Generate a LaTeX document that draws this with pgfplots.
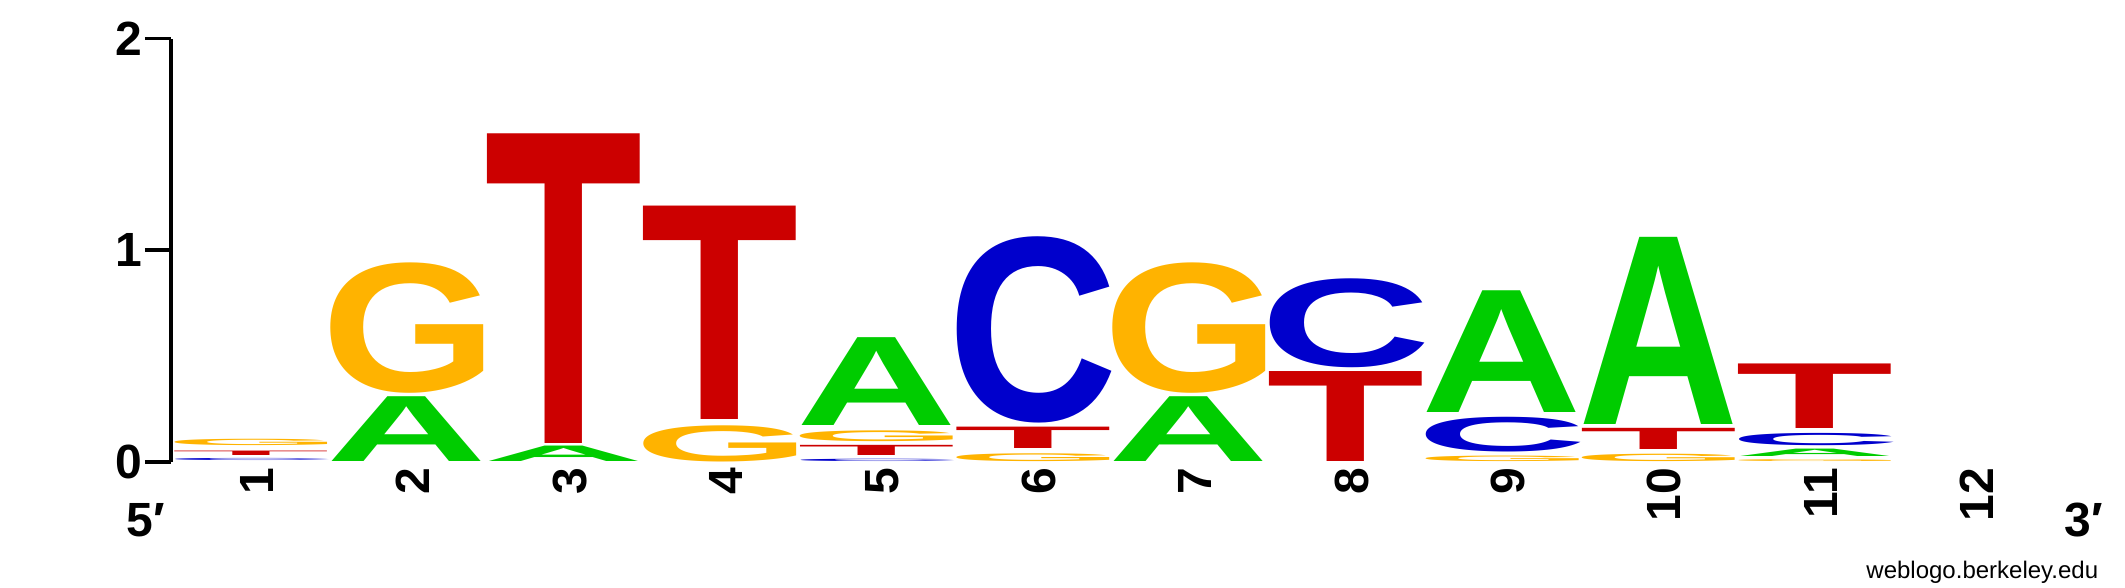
\documentclass[border=0pt]{standalone}
\usepackage{pgfplots}
\pgfplotsset{compat=1.18}
\usepackage{pgfplotstable}
\usepackage{graphicx}
\usepackage{fontspec}
\setmainfont{Liberation Sans}

\definecolor{colA}{HTML}{00CC00}
\definecolor{colC}{HTML}{0000CC}
\definecolor{colG}{HTML}{FFB300}
\definecolor{colT}{HTML}{CC0000}

% visible letter boxes: position, bottom (bits), height (bits)
\pgfplotstableread{
x  y     h
2  0     0.306
3  0     0.073
5  0.173 0.415
7  0     0.306
9  0.233 0.575
10 0.178 0.884
11 0.024 0.035
}\tabA
\pgfplotstableread{
x  y     h
1  0.006 0.010
5  0     0.011
6  0.182 0.880
8  0.444 0.420
9  0.048 0.164
11 0.079 0.058
}\tabC
\pgfplotstableread{
x  y     h
1  0.079 0.030
2  0.326 0.616
4  0     0.171
5  0.097 0.051
6  0.004 0.037
7  0.326 0.616
9  0.002 0.026
10 0.001 0.035
11 0     0.009
}\tabG
\pgfplotstableread{
x  y     h
1  0.031 0.021
3  0.088 1.462
4  0.203 1.008
5  0.031 0.048
6  0.064 0.101
8  0     0.425
10 0.058 0.100
11 0.157 0.305
}\tabT

\pgfdeclareplotmark{blank}{}

\pgfplotsset{
  logo/.style n args={4}{% letter, colour, box width, x shift
    scatter, only marks, mark=blank,
    visualization depends on={\thisrow{h}*52.925 \as \hh},
    scatter/@pre marker code/.code={%
      \pgftext[bottom,x=#4]{\textcolor{#2}{\resizebox*{#3}{\hh pt}{\bfseries #1}}}},
    scatter/@post marker code/.code={},
  },
}

\begin{document}
\begin{tikzpicture}
\path[use as bounding box] (-42.75pt,-31.5pt) rectangle (488.5pt,115.5pt);
\begin{axis}[
    at={(0pt,0pt)}, anchor=south west,
    scale only axis,
    width=469.6pt, height=105.85pt,
    xmin=0.49, xmax=12.5,
    ymin=0, ymax=2,
    clip=false,
    axis lines*=left,
    x axis line style={draw=none},
    y axis line style={black, line width=0.9pt},
    xtick={1,...,12},
    ytick={0,1,2},
    xtick style={draw=none},
    ytick style={black, line width=0.9pt},
    tick align=outside,
    major tick length=6.5pt,
    /pgf/number format/assume math mode=true,
    ticklabel style={font=\bfseries\fontsize{12}{12}\selectfont},
    y tick label style={inner sep=0.5pt},
    x tick label style={xshift=1.5pt, yshift=5.25pt, rotate=90, anchor=east, inner sep=0pt},
  ]
  \addplot[logo={A}{colA}{40.1pt}{0pt}] table[x=x, y=y] {\tabA};
  \addplot[logo={C}{colC}{42.7pt}{0pt}] table[x=x, y=y] {\tabC};
  \addplot[logo={G}{colG}{44.05pt}{0.6pt}] table[x=x, y=y] {\tabG};
  \addplot[logo={T}{colT}{39.6pt}{0pt}] table[x=x, y=y] {\tabT};

  \node[font=\bfseries\fontsize{12}{12}\selectfont]
    at (axis description cs:-0.0133,-0.137) {5′};
  \node[font=\bfseries\fontsize{12}{12}\selectfont]
    at (axis description cs:1.0184,-0.137) {3′};
  \node[anchor=base east, inner sep=0pt, font=\fontsize{6}{7}\selectfont]
    at (axis description cs:1.0264,-0.2763) {weblogo.berkeley.edu};
\end{axis}
\end{tikzpicture}
\end{document}
